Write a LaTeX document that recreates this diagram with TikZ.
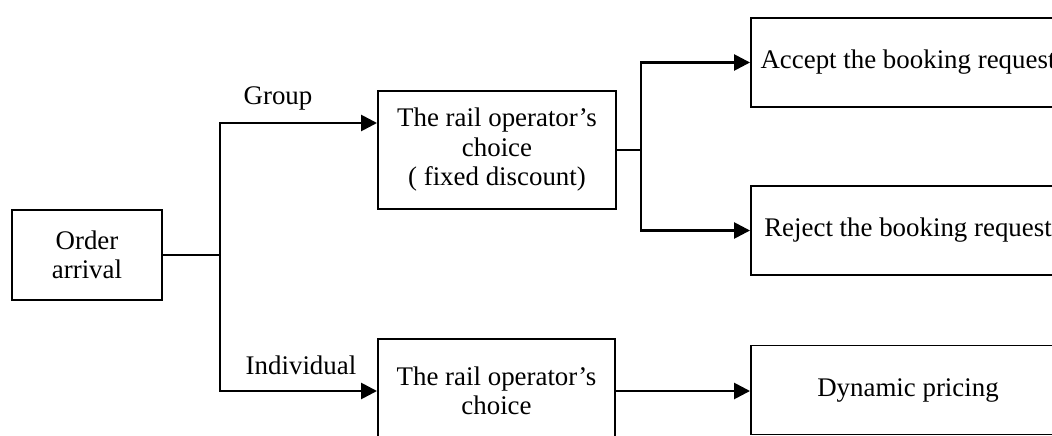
\documentclass[tikz,border=0pt]{standalone}
\usepackage{fontspec}
\setmainfont{Liberation Serif}
\usetikzlibrary{arrows.meta,positioning}

\begin{document}
\begin{tikzpicture}[>={Triangle[length=0.32cm,width=0.32cm]},
    font=\fontsize{15.3}{16.8}\selectfont,
    box/.style={draw,line width=1.1pt,align=center,inner sep=2pt},
    link/.style={line width=1.5pt}]
\useasboundingbox (0,0) rectangle (21.04,-8.72);

% the order and the two customer types
\node[box,minimum width=3.0cm,minimum height=1.8cm] (order) at (1.74,-5.10) {Order\\arrival};
\node[box,minimum width=4.76cm,minimum height=2.36cm] (fixed) at (9.94,-3.00)
  {The rail operator's\\choice\\( fixed discount)};
\node[box,minimum width=4.74cm,minimum height=2.08cm] (choice) at (9.93,-7.82)
  {The rail operator's\\choice};

% outcomes
\node[box,minimum width=6.28cm,minimum height=1.78cm] (accept) at (18.16,-1.25) {Accept the booking request};
\node[box,minimum width=6.28cm,minimum height=1.78cm] (reject) at (18.16,-4.61) {Reject the booking request};
\node[box,minimum width=6.28cm,minimum height=1.78cm] (dynamic) at (18.16,-7.80) {Dynamic pricing};

% branch labels
\node (group) at (5.56,-1.96) {Group};
\node (single) at (6.02,-7.30) {Individual};

% connectors
\coordinate (fork) at (4.40,-5.10);
\coordinate (split) at (12.82,-3.00);
\draw[link] (order.east) -- (fork);
\draw[link,->] (fork) |- ([yshift=0.54cm]fixed.west);
\draw[link,->] (fork) |- (choice.west);
\draw[link] (fixed.east) -- (split);
\draw[link,->] (split) |- (accept.west);
\draw[link,->] (split) |- (reject.west);
\draw[link,->] (choice.east) -- (choice.east -| dynamic.west);
\end{tikzpicture}
\end{document}
